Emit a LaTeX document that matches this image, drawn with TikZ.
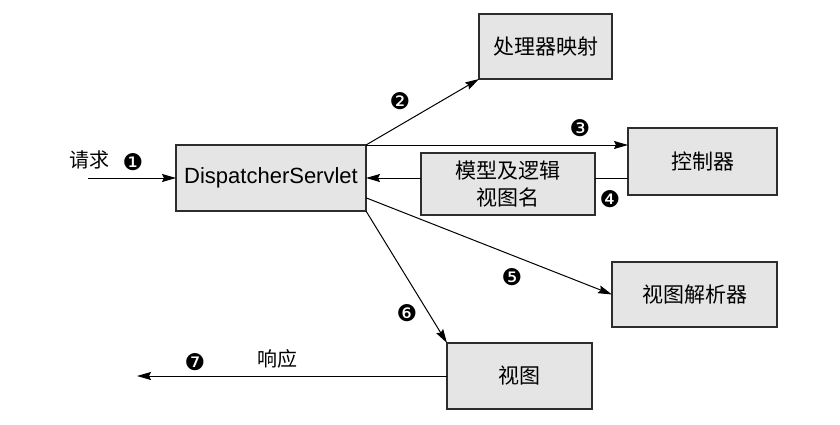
\documentclass[tikz,border=0pt]{standalone}
\usepackage{fontspec}
\setmainfont{Liberation Sans}
\newfontfamily\cjk{Noto Sans CJK SC}
\newfontfamily\dv{DejaVu Sans}
\usetikzlibrary{arrows.meta,calc}
\definecolor{boxfill}{RGB}{229,229,229}
\definecolor{boxline}{RGB}{45,45,45}
\tikzset{
  box/.style={draw=boxline, fill=boxfill, line width=1.3pt, anchor=north west, inner sep=0pt, outer sep=0pt},
  conn/.style={line width=1pt, -{Stealth[length=14pt,width=8pt,inset=2pt]}},
  plain/.style={line width=1pt},
  num/.style={font=\dv\fontsize{23}{23}\selectfont, inner sep=0pt},
  cn/.style={font=\cjk\fontsize{21}{26}\selectfont},
}
\begin{document}
\begin{tikzpicture}[x=1pt,y=-1pt]
\useasboundingbox (0,0) rectangle (840,425);
\node[box, minimum width=190pt, minimum height=66pt, font=\fontsize{22}{24}\selectfont] (DS) at (176,145) {DispatcherServlet};
\node[box, cn, minimum width=133pt, minimum height=65pt] (hm) at (479,14) {处理器映射};
\node[box, cn, minimum width=149pt, minimum height=67pt] (ctrl) at (628,128) {控制器};
\node[box, cn, minimum width=174pt, minimum height=62pt, align=center, font=\cjk\fontsize{21}{27}\selectfont] (model) at (421,153) {模型及逻辑\\视图名};
\node[box, cn, minimum width=165pt, minimum height=65pt] (vr) at (612,262) {视图解析器};
\node[box, cn, minimum width=145pt, minimum height=66pt] (view) at (447,343) {视图};

\coordinate (req) at (88,178);
\coordinate (resp) at (137,376);

\draw[conn] (req) -- (DS.west);
\draw[conn] (DS.north east) -- (hm.south west);
\draw[conn] (DS.north east) -- (DS.north east -| ctrl.west);
\draw[plain] (ctrl.west |- DS.east) -- (model.east |- DS.east);
\draw[conn] (model.west |- DS.east) -- (DS.east);
\draw[conn] ($(DS.east)!0.6!(DS.south east)$) -- (vr.west);
\draw[conn] (DS.south east) -- (view.north west);
\draw[conn] (view.west) -- (resp);

\node[cn, font=\cjk\fontsize{20}{22}\selectfont] (lreq) at (89,160) {请求};
\node[num] (n1) at (133,162) {❶};
\node[num] (n2) at (400,101) {❷};
\node[num] (n3) at (580,128) {❸};
\node[num] (n4) at (610,199) {❹};
\node[num] (n5) at (512,277) {❺};
\node[num] (n6) at (407,313) {❻};
\node[num] (n7) at (195,362) {❼};
\node[cn, font=\cjk\fontsize{20}{22}\selectfont] (lresp) at (277,359) {响应};
\end{tikzpicture}
\end{document}
